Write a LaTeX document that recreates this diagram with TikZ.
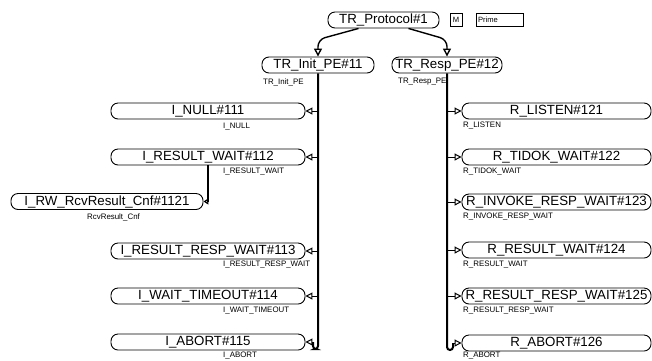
\documentclass[tikz,border=0pt]{standalone}
\usepackage{fontspec}
\setmainfont{Liberation Sans}
\usetikzlibrary{arrows.meta}
\begin{document}
\begin{tikzpicture}[x=1pt,y=-1pt,
 sbox/.style={draw, line width=0.9pt, rounded corners=7pt, minimum height=16pt, inner sep=0pt,
   font=\fontsize{13.3}{14}\selectfont, text height=9.6pt, text depth=2.6pt, anchor=center},
 tagbox/.style={draw, line width=0.8pt, minimum height=13pt, inner sep=0pt, font=\fontsize{7.6}{8}\selectfont},
 lbl/.style={font=\fontsize{7.9}{8}\selectfont, inner sep=0pt, anchor=west},
 bus/.style={line width=2pt},
 conn/.style={line width=1pt, -{Triangle[open,length=7pt,width=7pt]}},
 topconn/.style={line width=1.4pt, rounded corners=7pt, -{Triangle[open,length=8pt,width=8pt]}},
 subconn/.style={line width=1.2pt, -{Triangle[open,length=5pt,width=6pt]}}]
\useasboundingbox (0,0) rectangle (652,360);

% top
\node[sbox, minimum width=111pt] (p1) at (383.5,20) {TR\_Protocol\#1};
\node[tagbox, minimum width=12pt] (m) at (456,19.5) {M};
\node[tagbox, minimum width=47pt, text width=43pt, align=left] (prime) at (499.5,19.5) {Prime};

\node[sbox, minimum width=112pt] (p11) at (318,65) {TR\_Init\_PE\#11};
\node[lbl] (l11) at (263,82) {TR\_Init\_PE};
\node[sbox, minimum width=110pt] (p12) at (447,65) {TR\_Resp\_PE\#12};
\node[lbl] (l12) at (398,82) {TR\_Resp\_PE};

\draw[topconn] ([xshift=-25pt]p1.south) -- ([yshift=17pt]p11.north) -- (p11.north);
\draw[topconn] ([xshift=25pt]p1.south) -- ([yshift=17pt]p12.north) -- (p12.north);

% left side
\node[sbox, minimum width=194pt] (s111) at (208,111) {I\_NULL\#111};
\node[lbl] (l111) at (223,127) {I\_NULL};
\node[sbox, minimum width=194pt] (s112) at (208,157) {I\_RESULT\_WAIT\#112};
\node[lbl] (l112) at (223,172) {I\_RESULT\_WAIT};
\node[sbox, minimum width=192pt] (s1121) at (107,201.5) {I\_RW\_RcvResult\_Cnf\#1121};
\node[lbl] (l1121) at (87,217) {RcvResult\_Cnf};
\node[sbox, minimum width=194pt] (s113) at (208,251) {I\_RESULT\_RESP\_WAIT\#113};
\node[lbl] (l113) at (223,265) {I\_RESULT\_RESP\_WAIT};
\node[sbox, minimum width=194pt] (s114) at (208,296) {I\_WAIT\_TIMEOUT\#114};
\node[lbl] (l114) at (223,311) {I\_WAIT\_TIMEOUT};
\node[sbox, minimum width=194pt] (s115) at (208,342) {I\_ABORT\#115};
\node[lbl] (l115) at (223,355.5) {I\_ABORT};

\draw[bus, rounded corners=3pt] (p11.south) -- (318,349) -- (313,349) -- (313,342);
\foreach \n in {s111,s112,s113,s114}{
  \draw[conn] (\n.east -| p11.south) -- (\n.east);
}
\draw[conn] (313,342) -- (s115.east);
\draw[subconn] (s112.south) |- (s1121.east);

% right side
\node[sbox, minimum width=189pt] (s121) at (556.5,111) {R\_LISTEN\#121};
\node[lbl] (l121) at (463,126) {R\_LISTEN};
\node[sbox, minimum width=189pt] (s122) at (556.5,157) {R\_TIDOK\_WAIT\#122};
\node[lbl] (l122) at (463,172) {R\_TIDOK\_WAIT};
\node[sbox, minimum width=189pt] (s123) at (556.5,202) {R\_INVOKE\_RESP\_WAIT\#123};
\node[lbl] (l123) at (463,217) {R\_INVOKE\_RESP\_WAIT};
\node[sbox, minimum width=189pt] (s124) at (556.5,250) {R\_RESULT\_WAIT\#124};
\node[lbl] (l124) at (463,265) {R\_RESULT\_WAIT};
\node[sbox, minimum width=189pt] (s125) at (556.5,296) {R\_RESULT\_RESP\_WAIT\#125};
\node[lbl] (l125) at (463,311) {R\_RESULT\_RESP\_WAIT};
\node[sbox, minimum width=189pt] (s126) at (556.5,343) {R\_ABORT\#126};
\node[lbl] (l126) at (463,355.5) {R\_ABORT};

\draw[bus, rounded corners=3pt] (p12.south) -- (447,350) -- (453,350) -- (453,343);
\foreach \n in {s121,s122,s123,s124,s125}{
  \draw[conn] (\n.west -| p12.south) -- (\n.west);
}
\draw[conn] (453,343) -- (s126.west);
\end{tikzpicture}
\end{document}
